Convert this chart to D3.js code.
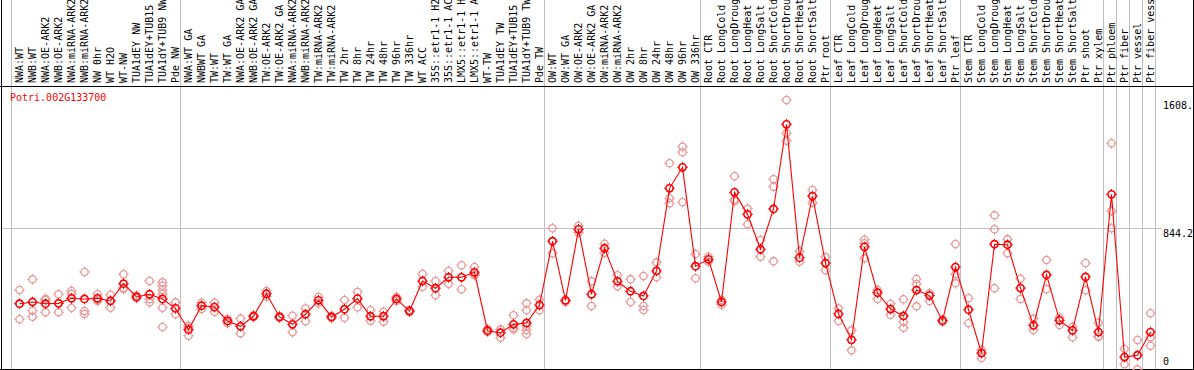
<!DOCTYPE html>
<html><head><meta charset="utf-8">
<script src="https://cdn.jsdelivr.net/npm/d3@7"></script>
<style>body{margin:0;background:#fff}svg{display:block}text{font-family:"DejaVu Sans Mono",monospace;font-size:10px}</style>
</head><body>
<svg id="c" width="1194" height="370"></svg>
<script>
const geneName = "Potri.002G133700";
const labels = ["NWA:WT","NWB:WT","NWA:OE-ARK2","NWB:OE-ARK2","NWA:miRNA-ARK2","NWB:miRNA-ARK2","NW 0hr","WT H2O","WT-NW","TUA1dEY NW","TUA1dEY+TUB15 NW","TUA1dY+TUB9 NW","Pde NW",
"NWA:WT GA","NWBWT GA","TW:WT","TW:WT GA","NWA:OE-ARK2 GA","NWB:OE-ARK2 GA","TW:OE-ARK2","TW:OE-ARK2 GA","NWA:miRNA-ARK2 GA","NWB:miRNA-ARK2 GA","TW:miRNA-ARK2","TW:miRNA-ARK2 GA","TW 2hr","TW 8hr","TW 24hr","TW 48hr","TW 96hr","TW 336hr","WT ACC","35S::etr1-1 H2O","35S::etr1-1 ACC","LMX5::etr1-1 H2O","LMX5::etr1-1 ACC","WT-TW","TUA1dEY TW","TUA1dEY+TUB15 TW","TUA1dY+TUB9 TW","Pde TW",
"OW:WT","OW:WT GA","OW:OE-ARK2","OW:OE-ARK2 GA","OW:miRNA-ARK2","OW:miRNA-ARK2 GA","OW 2hr","OW 8hr","OW 24hr","OW 48hr","OW 96hr","OW 336hr",
"Root CTR","Root LongCold","Root LongDrought","Root LongHeat","Root LongSalt","Root ShortCold","Root ShortDrought","Root ShortHeat","Root ShortSalt","Ptr root",
"Leaf CTR","Leaf LongCold","Leaf LongDrought","Leaf LongHeat","Leaf LongSalt","Leaf ShortCold","Leaf ShortDrought","Leaf ShortHeat","Leaf ShortSalt","Ptr leaf",
"Stem CTR","Stem LongCold","Stem LongDrought","Stem LongHeat","Stem LongSalt","Stem ShortCold","Stem ShortDrought","Stem ShortHeat","Stem ShortSalt","Ptr shoot","Ptr xylem",
"Ptr phloem","Ptr fiber","Ptr vessel","Ptr fiber vessel"];
const means = [395,405,395,397,427,423,427,411,514,435,451,423,367,
240,383,375,292,260,320,454,316,272,332,415,316,362,425,320,320,423,351,530,487,552,552,582,234,222,272,280,387,
767,415,838,451,725,528,469,441,590,1082,1207,618,
659,405,1058,927,719,959,1463,669,1036,637,
334,180,733,460,363,322,476,443,294,613,
359,101,749,746,488,266,566,296,236,554,226,
1046,77,88,226];
const reps = [[476,395,302],[540,353,317],[417,344,424],[451,397,344],[471,453,371],[584,351,334],[451,411,419],[448,414,371],[570,490,482],[427,443],[530,403,423],[522,502,476,453,371,256],[403,332],
[264,252,204],[401,363],[401,347],[304,278],[306,219],[326,314],[471,437],[322,310],[323,225],[367,290],[435,397],[322,310],[417,311],[465,373],[356,294],[347,288],[435,411],[357,345],[572,496],[530,445],[590,514],[624,481],[613,564,570],[244,226],[242,192],[326,242,250],[397,356,262,238,214],[419,356],
[844,695],[415,405],[859,818],[528,381],[752,697],[564,499],[540,405],[560,381,357],[641,552],[1231,1023,993],[1330,1297,999],[691,546],
[675,645],[417,389],[1154,1005,1015],[961,868],[774,675],[1136,1092,647],[1608,1410,1366],[707,645],[1072,996],[673,594],
[367,292],[236,117],[776,755,665],[476,423],[395,329],[421,286,252],[542,512,379],[457,411],[300,288],[750,570,516],
[427,278],[119,71],[921,838,487],[778,695],[544,423],[306,238],[655,481],[311,268],[258,195],[637,475],[282,198,200],
[1350,947,844],[125,34],[179,4],[338,195,145]];
const groupBreaks = [0,13,41,53,63,73,84,85,86,87,88];
const yTicks = [0,844.2,1608];
const yTickLabels = ["0","844.2","1608."];
const gridValues = [844.2];

const svg = d3.select("#c");
const W = 1194, H = 370;
const idx = d3.range(labels.length);
const x = d3.scaleBand().domain(idx).range([13, 13 + 13*labels.length]).padding(0);
const cx = i => x(i) + x.bandwidth()/2;
const y = d3.scaleLinear().domain([0,1608]).range([370,100]);
const sepX = k => Math.round(13 + 13*k - 2) + 0.5;

// separators
svg.append("g").selectAll("line").data(groupBreaks).join("line")
  .attr("x1", sepX).attr("x2", sepX).attr("y1", 0).attr("y2", H)
  .attr("stroke", "#c0c0c0").attr("stroke-width", 1);
// grid
svg.append("g").selectAll("line").data(gridValues).join("line")
  .attr("x1", 1).attr("x2", 1162).attr("y1", d => Math.round(y(d)) + 0.5).attr("y2", d => Math.round(y(d)) + 0.5)
  .attr("stroke", "#c0c0c0");

// labels
svg.append("g").selectAll("text").data(labels).join("text")
  .attr("transform", (d,i) => `translate(${cx(i)+3.5},83) rotate(-90)`)
  .attr("fill", "#000").text(d => d);

// frame
svg.append("line").attr("x1",0).attr("x2",W).attr("y1",86.5).attr("y2",86.5).attr("stroke","#000");
svg.append("line").attr("x1",1.5).attr("x2",1.5).attr("y1",0).attr("y2",H).attr("stroke","#000");
svg.append("line").attr("x1",W-0.5).attr("x2",W-0.5).attr("y1",0).attr("y2",H).attr("stroke","#000");
svg.append("line").attr("x1",0).attr("x2",W).attr("y1",369.5).attr("y2",369.5).attr("stroke","#000");

// y tick labels
svg.append("g").selectAll("text").data(yTicks).join("text")
  .attr("x", 1163).attr("y", d => Math.min(y(d) + 9, 365))
  .attr("fill", "#000").text((d,i) => yTickLabels[i]);

// gene name
svg.append("text").attr("x", 10).attr("y", 101).attr("fill", "#ff0000").text(geneName);

function marker(g, px, py, color, sw) {
  g.append("circle").attr("cx", px).attr("cy", py).attr("r", 3.6)
    .attr("fill", "none").attr("stroke", color).attr("stroke-width", sw);
  const t = 5.3, s = 3.4;
  g.append("path").attr("d", `M${px},${py-t}V${py-s}M${px},${py+s}V${py+t}M${px-t},${py}H${px-s}M${px+s},${py}H${px+t}`)
    .attr("stroke", color).attr("stroke-width", 1).attr("fill","none");
}

// replicates
const rg = svg.append("g");
reps.forEach((arr, i) => arr.forEach(v => marker(rg, cx(i), y(v), "#e89898", 1.3)));

// mean line
svg.append("path").datum(means)
  .attr("d", d3.line().x((d,i) => cx(i)).y(d => y(d)))
  .attr("fill", "none").attr("stroke", "#ff0000").attr("stroke-width", 1.1);

const mg = svg.append("g");
means.forEach((v, i) => marker(mg, cx(i), y(v), "#ff0000", 1.6));
</script>
</body></html>
